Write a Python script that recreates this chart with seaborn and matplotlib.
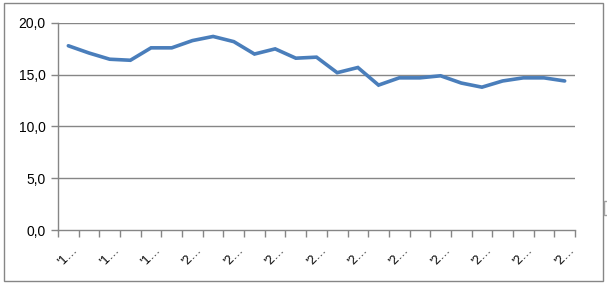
import matplotlib
matplotlib.use("Agg")
import matplotlib.pyplot as plt
import matplotlib.patches as mpatches
from matplotlib.ticker import FixedLocator, FuncFormatter
import seaborn as sns
import pandas as pd

years = list(range(1995, 2020))
values = [17.8, 17.1, 16.5, 16.4, 17.6, 17.6, 18.3, 18.7, 18.2, 17.0,
          17.5, 16.6, 16.7, 15.2, 15.7, 14.0, 14.7, 14.7, 14.9, 14.2,
          13.8, 14.4, 14.7, 14.7, 14.4]
tick_labels = ["'1…", "'1…", "'1…", "'2…", "'2…", "'2…", "'2…",
               "'2…", "'2…", "'2…", "'2…", "'2…", "'2…"]
y_ticks = [0, 5, 10, 15, 20]

sns.set_theme(style="white")
plt.rcParams['font.family'] = ['Liberation Sans', 'DejaVu Sans']

df = pd.DataFrame({"idx": range(len(years)), "value": values})

fig = plt.figure(figsize=(6.07, 2.85), dpi=100)
ax = fig.add_axes([58/607, 1-230/285, (575-58)/607, (230-23)/285])

sns.lineplot(data=df, x="idx", y="value", ax=ax, color="#4A7EBB",
             linewidth=2.6, solid_joinstyle="miter")

grid_c = "#868686"
ax.set_xlim(-0.5, len(years)-0.5)
ax.set_ylim(0, 20)
ax.set_yticks(y_ticks)
ax.yaxis.set_major_formatter(FuncFormatter(lambda v, p: f"{v:.1f}".replace(".", ",")))
for y in y_ticks[1:]:
    ax.axhline(y, color=grid_c, lw=1, zorder=0)

ax.set_xticks(list(range(0, len(years), 2)))
ax.set_xticklabels(tick_labels, rotation=45, ha="center", va="top")
ax.xaxis.set_minor_locator(FixedLocator([i - 0.5 for i in range(len(years)+1)]))
ax.tick_params(axis="x", which="major", length=0, pad=10, labelsize=9, colors="black")
ax.tick_params(axis="x", which="minor", length=5, width=1, color=grid_c, direction="out", bottom=True)
ax.tick_params(axis="y", which="major", length=5, width=1, color=grid_c, direction="out", left=True,
               labelsize=10, labelcolor="black", pad=4)
ax.set_xlabel("")
ax.set_ylabel("")
for s in ["top", "right"]:
    ax.spines[s].set_visible(False)
for s in ["left", "bottom"]:
    ax.spines[s].set_color(grid_c)
    ax.spines[s].set_linewidth(1)

fig.patches.append(mpatches.Rectangle((4/607, 1-281/285), 599/607, 278/285,
                                      transform=fig.transFigure, fill=False,
                                      edgecolor=grid_c, linewidth=1))
fig.patches.append(mpatches.Rectangle((604/607, 1-215/285), 4/607, 14/285,
                                      transform=fig.transFigure, fill=False,
                                      edgecolor="#A0A0A0", linewidth=1))

fig.savefig("out.png", dpi=100)
